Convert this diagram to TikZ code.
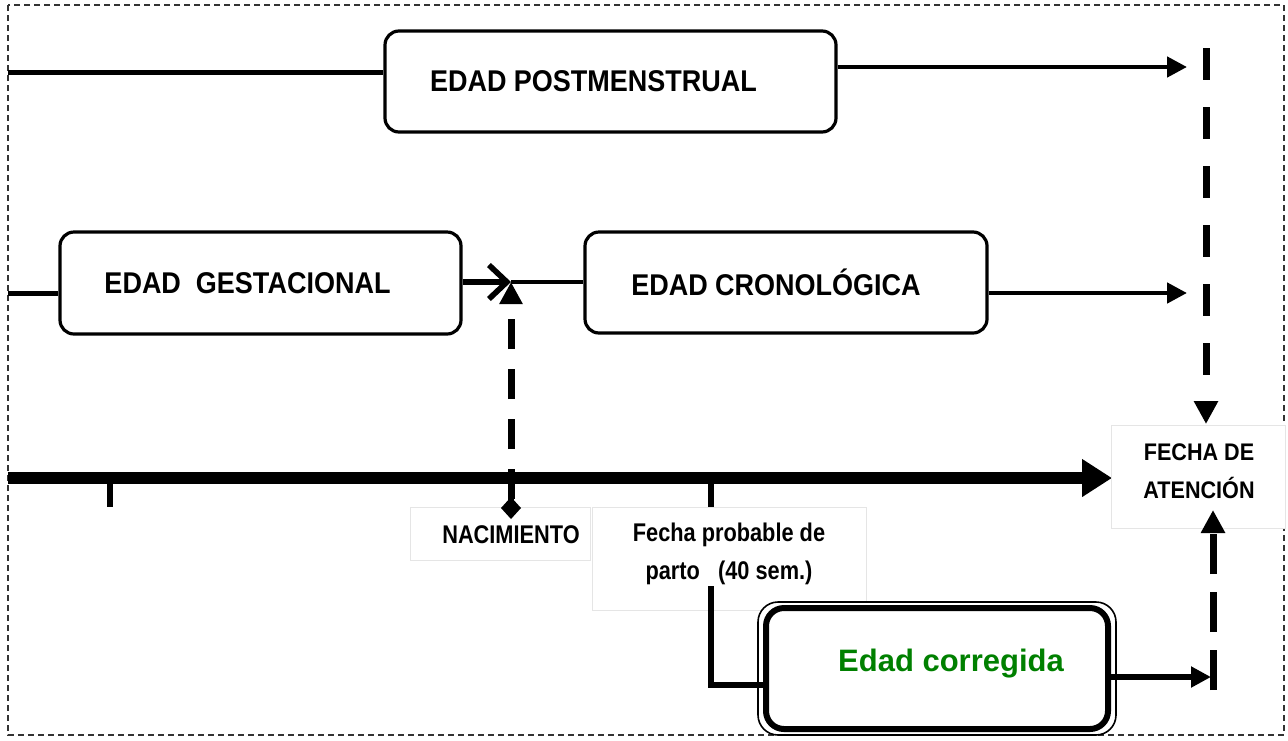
\documentclass[tikz,border=0pt]{standalone}
\usepackage{fontspec}
\setmainfont{Liberation Sans}
\newfontfamily\nar[FakeStretch=0.9]{Liberation Sans}
\newfontfamily\narr[FakeStretch=0.85]{Liberation Sans}
\usetikzlibrary{arrows.meta}
\definecolor{dgreen}{RGB}{0,128,0}
\tikzset{
  box/.style={draw, line width=1.6pt, rounded corners=7pt, fill=white, font=\nar\bfseries\fontsize{15}{17}\selectfont},
  lblbox/.style={draw=gray!20, line width=0.4pt, fill=white},
  lbl/.style={font=\narr\bfseries\fontsize{12.8}{19}\selectfont, align=center, inner sep=0pt},
  arr/.style={line width=2.3pt, -{Triangle[length=10pt,width=10pt]}},
  dsh/.style={line width=3.5pt},
}
\begin{document}
\begin{tikzpicture}[x=0.5pt,y=-0.5pt]
\useasboundingbox (0,0) rectangle (1288,740);
\draw[dash pattern=on 3pt off 2pt, line width=0.6pt, black!80] (8,5) rectangle (1284,735);

% boxes
\node[box, minimum width=225.5pt, minimum height=50.5pt] (pm) at (610.5,81.5) {EDAD POSTMENSTRUAL\hspace*{17pt}};
\node[box, minimum width=200.5pt, minimum height=51pt] (eg) at (260.5,283) {EDAD\ \ GESTACIONAL\hspace*{13pt}};
\node[box, minimum width=201pt, minimum height=50.5pt] (ec) at (786,282.5) {EDAD CRONOLÓGICA\hspace*{10pt}};

% coordinates
\coordinate (a0) at (8,72);
\coordinate (a1) at (1187,67);
\coordinate (b0) at (8,293);
\coordinate (bj) at (511,282);
\coordinate (b1) at (1187,293);
\coordinate (t0) at (8,478);
\coordinate (t1) at (1112,478);
\coordinate (k1a) at (110,478);
\coordinate (k1b) at (110,507);
\coordinate (k2a) at (511,478);
\coordinate (k2b) at (511,519);
\coordinate (k3a) at (711,478);
\coordinate (k3b) at (711,507);
\coordinate (k3c) at (711,586);
\coordinate (k3d) at (711,685);
\coordinate (nd) at (511,499);
\coordinate (d1) at (1206,48);
\coordinate (d2) at (1206,424);
\coordinate (e0) at (1213,690);
\coordinate (e1) at (1213,510);
\coordinate (c1) at (1211,677);

% top row
\draw[line width=2.5pt] (a0) -- (a0 -| pm.west);
\draw[arr] (pm.east |- a1) -- (a1);

% second row
\draw[line width=2.5pt] (b0) -- (b0 -| eg.west);
\draw[line width=2.8pt, -{Straight Barb[length=9pt,width=17pt]}] (eg.east |- bj) -- (bj);
\draw[line width=2pt] (bj) -- (bj -| ec.west);
\draw[arr] (ec.east |- b1) -- (b1);

% labels
\node[lblbox, minimum width=90pt, minimum height=26.5pt] (nacbox) at (500,533.5) {};
\node[lblbox, minimum width=137pt, minimum height=51.5pt] (fpbox) at (729,558.5) {};
\node[lbl] (nac) at (511,535) {NACIMIENTO};
\node[lbl] (fp) at (729,554) {Fecha probable de\\parto\ \ \ (40 sem.)};

% timeline
\draw[line width=6pt, -{Triangle[length=15pt,width=18pt]}] (t0) -- (t1);
\draw[line width=3pt] (k1a) -- (k1b);
\draw[line width=3pt, -{Diamond[length=11pt,width=10pt]}] (k2a) -- (k2b);
\draw[line width=3pt] (k3a) -- (k3b);

% nacimiento dashed arrow
\draw[dsh, dash pattern=on 15pt off 10pt, -{Triangle[length=11pt,width=11pt]}] (nd) -- (bj);

% fecha de atencion
\node[lblbox, minimum width=87pt, minimum height=51.5pt] (fabox) at (1198,476.5) {};
\node[lbl, font=\nar\bfseries\fontsize{12}{19}\selectfont] (fa) at (1199,471) {FECHA DE\\ATENCIÓN};

% corrected age
\draw[line width=0.8pt, fill=white, rounded corners=10pt] (758,602) rectangle (1116,735);
\node[box, line width=3pt, rounded corners=9pt, minimum width=171pt, minimum height=60.5pt,
      font=\bfseries\fontsize{15.5}{18}\selectfont, text=dgreen] (cor) at (937,668.5) {\raisebox{8pt}{\hspace*{14pt}Edad corregida}};
\draw[line width=3pt] (k3c) -- (k3d) -- (k3d -| cor.west);
\draw[arr, line width=2.6pt] (cor.east |- c1) -- (c1);

% right dashed arrows
\draw[dsh, dash pattern=on 16pt off 13.5pt, -{Triangle[length=11.5pt,width=11.5pt]}] (d1) -- (d2);
\draw[dsh, dash pattern=on 20pt off 9pt, -{Triangle[length=11.5pt,width=11.5pt]}] (e0) -- (e1);
\end{tikzpicture}
\end{document}
